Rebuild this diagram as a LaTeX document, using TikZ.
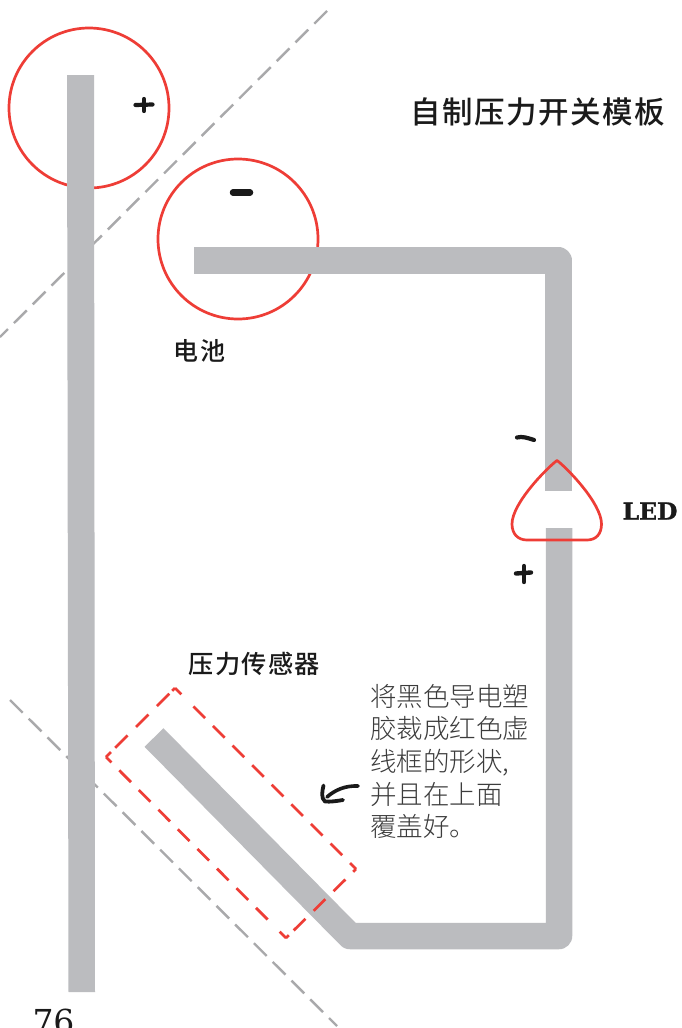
\documentclass[tikz,border=0pt]{standalone}
\usepackage{fontspec}
\usetikzlibrary{calc}
\newfontfamily\cjkt[UprightFont=* Medium,LetterSpace=5]{Noto Sans CJK SC}
\newfontfamily\cjkb[UprightFont=* Medium,LetterSpace=5]{Noto Sans CJK SC}
\newfontfamily\cjkl[UprightFont=* Light]{Noto Sans CJK SC}
\newfontfamily\slab[FakeBold=1.2]{DejaVu Serif Bold}
\newfontfamily\slabn{DejaVu Serif}
\definecolor{wire}{HTML}{BBBCBF}
\definecolor{cut}{HTML}{A9A9AB}
\definecolor{redl}{HTML}{EE3D36}
\definecolor{ink}{HTML}{1A1A1A}
\tikzset{
  wirepath/.style={draw=wire,line width=26.5pt,line cap=butt,line join=round},
  foldline/.style={draw=cut,line width=2.4pt,dash pattern=on 18pt off 8.5pt},
  redline/.style={draw=redl,line width=2.7pt},
  pen/.style={draw=ink,line cap=round,line join=round},
  txt/.style={inner sep=0pt,text=ink},
}
\newcommand{\dashside}[6]{%
  \draw[redline] (#1) -- ($(#1)!#3pt!(#2)$);
  \draw[redline,dash pattern=on #5pt off #6pt] ($(#1)!#4pt!(#2)$) -- (#2);
}
\begin{document}
\begin{tikzpicture}[x=1pt,y=-1pt]
\useasboundingbox (0,0) rectangle (681,1028);
\clip (0,0) rectangle (681,1028);
\fill[white] (0,0) rectangle (681,1028);
% fold lines
\draw[foldline] (327,11) -- (0,337);
\draw[foldline] (10,700) -- (337,1026);
% battery circles
\draw[redline] (89,108) circle (80);
\draw[redline] (238,239) circle (80);
% wires
\fill[wire] (67,75) -- (94,75) -- (95,992) -- (68.5,992) -- cycle;
\draw[wirepath] (194,260.5) -- (558.5,260.5) -- (558.5,491);
\draw[wirepath] (559,528) -- (559,936) -- (350,936) -- (154,737.5);
% cut outline
\coordinate (A) at (175,688);
\coordinate (B) at (356,869);
\coordinate (C) at (286,938);
\coordinate (D) at (106,757);
\dashside{A}{B}{9}{26}{16.5}{11.2}
\dashside{B}{C}{4}{15}{16.5}{11.5}
\dashside{C}{D}{9}{26}{16.5}{11.2}
\dashside{D}{A}{7}{13}{17.5}{12}
\draw[redline] (A) -- ($(A)!4pt!(D)$);
\draw[redline] (C) -- ($(C)!4pt!(B)$);
% LED
\draw[redline,line join=round] (557,460.5)
  .. controls (548,467) and (512,503) .. (512,524)
  .. controls (512,534) and (518,540) .. (527,540)
  -- (587,540)
  .. controls (596,540) and (601.5,534) .. (601.5,524)
  .. controls (601.5,503) and (566,467) .. (557,460.5) -- cycle;
% hand-drawn signs
\draw[pen,line width=4.2pt] (135.5,105) -- (152.5,104.5);
\draw[pen,line width=4.2pt] (144,99) -- (144,111);
\draw[pen,line width=6.5pt] (233,192.5) -- (250,192.5);
\draw[pen,line width=4.2pt] (517,437.5) .. controls (522,436) and (528,438) .. (534,440);
\draw[pen,line width=4.4pt] (516,573.5) -- (531,572.5);
\draw[pen,line width=4.4pt] (524,566) -- (524,582);
% hand arrow
\draw[pen,line width=3.6pt] (358,786) .. controls (345,785.5) and (335,790) .. (327,797);
\draw[pen,line width=3.8pt] (323.5,785.5) .. controls (322,792) and (321,798) .. (325,801.5) .. controls (330,802) and (337,801) .. (343,800);
% texts
\node[txt,font=\cjkt\fontsize{30.5}{30.5}\selectfont] (title) at (538,112) {自制压力开关模板};
\node[txt,font=\cjkb\fontsize{25}{25}\selectfont] (battery) at (199.5,351) {电池};
\node[txt,font=\cjkb\fontsize{25.2}{25.2}\selectfont] (sensor) at (254.5,664) {压力传感器};
\node[txt,font=\slab\fontsize{23.5}{23.5}\selectfont] (led) at (650,511) {LED};
\node[txt,font=\slabn\fontsize{33}{33}\selectfont] (page) at (53.5,1021) {76};
\node[txt,font=\cjkl\fontsize{26.5}{32.6}\selectfont,text=ink!85,align=left,anchor=north west] (note) at (370,684) {将黑色导电塑\\胶裁成红色虚\\线框的形状,\\并且在上面\\覆盖好。};
\end{tikzpicture}
\end{document}
